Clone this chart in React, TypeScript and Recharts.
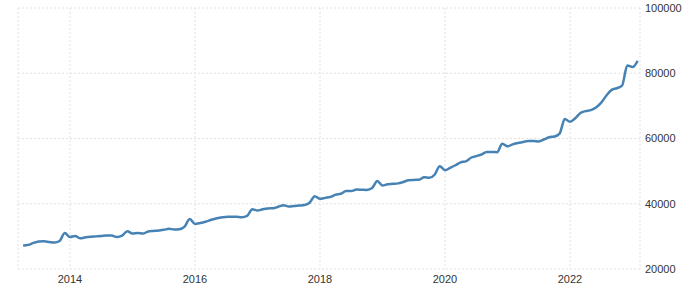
import { LineChart, Line, XAxis, YAxis, CartesianGrid } from "recharts";

// monthly values, Apr 2013 .. Feb 2023
const startYear = 2013;
const startMonth = 4;
const values = [
  // 2013 (Apr-Dec)
  27200, 27400, 28000, 28400, 28500, 28300, 28100, 28600, 31000,
  // 2014
  29800, 30100, 29400, 29700, 29900, 30000, 30100, 30250, 30250, 29800, 30200, 31600,
  // 2015
  30850, 31000, 30850, 31500, 31650, 31800, 32000, 32350, 32100, 32200, 33000, 35300,
  // 2016
  33800, 34100, 34500, 35000, 35500, 35800, 35950, 36050, 36000, 35900, 36300, 38300,
  // 2017
  37900, 38300, 38550, 38620, 39100, 39540, 39130, 39300, 39440, 39600, 40300, 42300,
  // 2018
  41500, 41800, 42100, 42800, 43050, 43900, 43900, 44350, 44300, 44230, 44800, 47000,
  // 2019
  45600, 46000, 46100, 46250, 46680, 47200, 47300, 47350, 48100, 47950, 48900, 51500,
  // 2020
  50300, 51000, 51800, 52700, 53000, 54100, 54600, 55100, 55850, 55850, 55800, 58400,
  // 2021
  57600, 58200, 58600, 58950, 59200, 59250, 59100, 59700, 60400, 60600, 61500, 66000,
  // 2022
  65100, 66200, 67800, 68400, 68700, 69500, 71000, 73200, 74900, 75400, 76200, 82400,
  // 2023
  81900, 83800,
];

const yearTicks = [2014, 2016, 2018, 2020, 2022];
const valueTicks = [20000, 40000, 60000, 80000, 100000];

const data = values.map((v, i) => {
  const m = startMonth - 1 + i;
  return { t: startYear + m / 12, value: v };
});

const tickStyle = { fontSize: 11, fill: "#333", fontFamily: "'Liberation Sans', Arial, sans-serif" };

export default function App() {
  return (
    <div style={{ position: "absolute", left: 0, top: 0, width: 700, height: 292, background: "#fff" }}>
      <LineChart width={700} height={292} data={data} margin={{ top: 8, right: 0, bottom: 0, left: 18 }}>
        <CartesianGrid stroke="#e2e2e2" strokeDasharray="2 2" />
        <XAxis
          dataKey="t"
          type="number"
          domain={[2013.168, 2023.12]}
          ticks={yearTicks}
          allowDataOverflow
          axisLine={false}
          tickLine={false}
          tickSize={0}
          tickMargin={6}
          height={23}
          tick={tickStyle}
        />
        <YAxis
          orientation="right"
          domain={[20000, 100000]}
          ticks={valueTicks}
          axisLine={false}
          tickLine={false}
          tickSize={0}
          tickMargin={5}
          width={60}
          tick={{ ...tickStyle, textAnchor: "start" }}
        />
        <Line
          type="monotone"
          dataKey="value"
          stroke="#4682b4"
          strokeWidth={2.5}
          dot={false}
          isAnimationActive={false}
        />
      </LineChart>
    </div>
  );
}
